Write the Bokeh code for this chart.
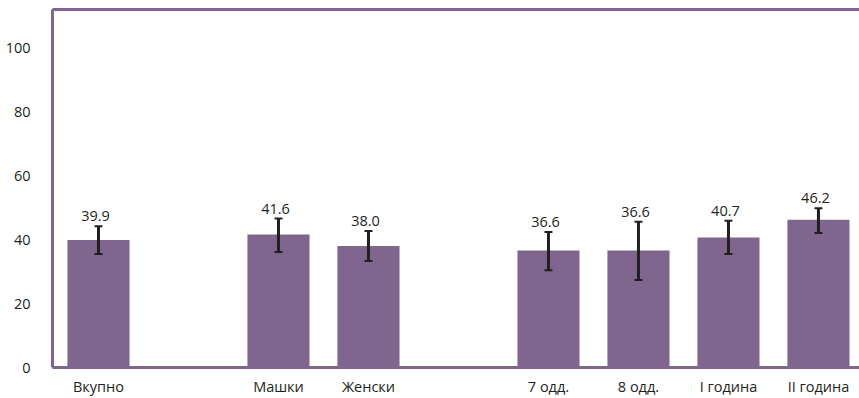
from bokeh.plotting import figure
from bokeh.models import ColumnDataSource, Whisker, TeeHead, FixedTicker, LinearAxis, Range1d, LabelSet
from bokeh.core.properties import value
from bokeh.embed import file_html
from bokeh.resources import INLINE

categories = ["Вкупно", "Машки", "Женски", "7 одд.", "8 одд.", "I година", "II година"]
positions = [0, 2, 3, 5, 6, 7, 8]
means = [39.9, 41.6, 38.0, 36.6, 36.6, 40.7, 46.2]
lower = [35.5, 36.1, 33.3, 30.4, 27.4, 35.5, 42.1]
upper = [44.2, 46.6, 42.7, 42.4, 45.6, 45.9, 49.8]
labels = ["39.9", "41.6", "38.0", "36.6", "36.6", "40.7", "46.2"]
y_ticks = [0, 20, 40, 60, 80, 100]

PURPLE = "#80668f"
DARK = "#231f20"
FONT = "Open Sans"

src = ColumnDataSource(dict(x=positions, top=means, lower=lower, upper=upper, label=labels))

p = figure(width=859, height=398, output_backend="svg", toolbar_location=None,
           x_range=Range1d(-0.511, 8.456), y_range=Range1d(0, 112),
           min_border_left=52, min_border_right=0, min_border_top=9, min_border_bottom=30)
p.outline_line_color = None
p.grid.grid_line_color = None
p.background_fill_color = "white"
p.border_fill_color = "white"

p.vbar(x="x", top="top", bottom=0, width=0.69, source=src, fill_color=PURPLE, line_color=None)

w = Whisker(base="x", lower="lower", upper="upper", source=src,
            line_color=DARK, line_width=3, level="overlay",
            upper_head=TeeHead(size=8, line_color=DARK, line_width=2),
            lower_head=TeeHead(size=8, line_color=DARK, line_width=2))
p.add_layout(w)

ls = LabelSet(x="x", y="upper", text="label", source=src, text_align="center",
              text_baseline="bottom", x_offset=-3, y_offset=5, text_font=value(FONT),
              text_font_size="14.5px", text_color=DARK)
p.add_layout(ls)

xa = p.xaxis[0]
xa.ticker = FixedTicker(ticks=positions)
xa.major_label_overrides = {pos: c for pos, c in zip(positions, categories)}
xa.major_tick_line_color = None
xa.minor_tick_line_color = None
xa.axis_line_color = PURPLE
xa.axis_line_width = 3
xa.major_label_standoff = 3
xa.major_label_text_font = FONT
xa.major_label_text_font_size = "14.5px"
xa.major_label_text_color = DARK

ya = p.yaxis[0]
ya.ticker = FixedTicker(ticks=y_ticks)
ya.major_tick_line_color = None
ya.minor_tick_line_color = None
ya.axis_line_color = PURPLE
ya.axis_line_width = 3
ya.major_label_standoff = 16
ya.major_label_text_font = FONT
ya.major_label_text_font_size = "14.5px"
ya.major_label_text_color = DARK

top_axis = LinearAxis(ticker=FixedTicker(ticks=[]), major_tick_line_color=None,
                      minor_tick_line_color=None, axis_line_color=PURPLE, axis_line_width=3,
                      major_label_text_font_size="0px", major_label_standoff=0)
p.add_layout(top_axis, "above")

open("out.html", "w").write(file_html(p, INLINE))
